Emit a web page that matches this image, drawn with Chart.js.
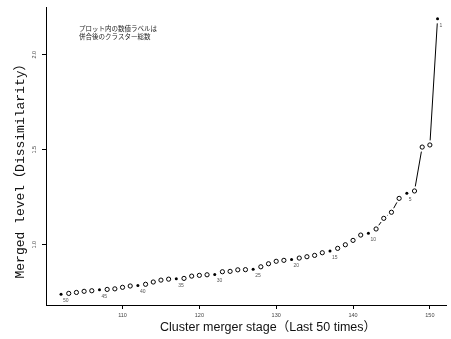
<!DOCTYPE html>
<html>
<head>
<meta charset="utf-8">
<script src="https://cdn.jsdelivr.net/npm/chart.js@4.4.1/dist/chart.umd.min.js"></script>
<style>
  body { margin: 0; background: #fff; }
  .chart-wrapper { width: 451px; height: 339px; }
</style>
</head>
<body>
<div class="chart-wrapper"><canvas id="chart"></canvas></div>
<script>
const stages = [102, 103, 104, 105, 106, 107, 108, 109, 110, 111,
  112, 113, 114, 115, 116, 117, 118, 119, 120, 121,
  122, 123, 124, 125, 126, 127, 128, 129, 130, 131,
  132, 133, 134, 135, 136, 137, 138, 139, 140, 141,
  142, 143, 144, 145, 146, 147, 148, 149, 150, 151];

const mergeLevels = [0.740, 0.744, 0.749, 0.755, 0.758, 0.763, 0.765, 0.768, 0.776, 0.783,
  0.785, 0.792, 0.804, 0.814, 0.819, 0.821, 0.823, 0.835, 0.839, 0.842,
  0.844, 0.858, 0.860, 0.868, 0.869, 0.871, 0.884, 0.900, 0.913, 0.918,
  0.923, 0.930, 0.937, 0.944, 0.958, 0.967, 0.981, 1.000, 1.023, 1.051,
  1.060, 1.083, 1.139, 1.171, 1.244, 1.271, 1.283, 1.514, 1.525, 2.189];

// clusters remaining after each merge
const clusterCounts = [50, 49, 48, 47, 46, 45, 44, 43, 42, 41,
  40, 39, 38, 37, 36, 35, 34, 33, 32, 31,
  30, 29, 28, 27, 26, 25, 24, 23, 22, 21,
  20, 19, 18, 17, 16, 15, 14, 13, 12, 11,
  10, 9, 8, 7, 6, 5, 4, 3, 2, 1];

const labeledCounts = [50, 45, 40, 35, 30, 25, 20, 15, 10, 5, 1];

const xTicks = [110, 120, 130, 140, 150];
const yTicks = [1.0, 1.5, 2.0];

const xTitle = "Cluster merger stage（Last 50 times）";
const yTitle = "Merged level（Dissimilarity）";
const noteLines = ["プロット内の数値ラベルは", "併合後のクラスター総数"];

const ctx = document.getElementById("chart");
const isLabeled = (i) => labeledCounts.includes(clusterCounts[i]);

// R style type="b": segments with a gap around each point
const gapLines = {
  id: "gapLines",
  beforeDatasetsDraw(chart) {
    const pts = chart.getDatasetMeta(0).data;
    const c = chart.ctx;
    const gap = 4.6;
    c.save();
    c.strokeStyle = "#000";
    c.lineWidth = 1;
    for (let i = 0; i < pts.length - 1; i++) {
      const a = pts[i], b = pts[i + 1];
      const dx = b.x - a.x, dy = b.y - a.y;
      const d = Math.hypot(dx, dy);
      if (d <= gap * 2) continue;
      const ux = dx / d, uy = dy / d;
      c.beginPath();
      c.moveTo(a.x + ux * gap, a.y + uy * gap);
      c.lineTo(b.x - ux * gap, b.y - uy * gap);
      c.stroke();
    }
    c.restore();
  },
};

const decorations = {
  id: "decorations",
  afterDatasetsDraw(chart) {
    const c = chart.ctx;
    const pts = chart.getDatasetMeta(0).data;
    const yScale = chart.scales.y;
    c.save();

    // cluster count labels
    c.font = "5px 'Liberation Sans', Arial, sans-serif";
    c.fillStyle = "#555";
    c.textAlign = "left";
    c.textBaseline = "middle";
    pts.forEach((p, i) => {
      if (isLabeled(i)) c.fillText(String(clusterCounts[i]), p.x + 2, p.y + 6.5);
    });

    // rotated y tick labels
    c.font = "5.5px 'Liberation Sans', Arial, sans-serif";
    c.fillStyle = "#444";
    c.textAlign = "center";
    yTicks.forEach((v) => {
      const y = yScale.getPixelForValue(v);
      c.save();
      c.translate(34, y);
      c.rotate(-Math.PI / 2);
      c.fillText(v.toFixed(1), 0, 0);
      c.restore();
    });

    // axis titles
    c.fillStyle = "#111";
    c.font = "12.5px 'Liberation Sans', Arial, 'Noto Sans CJK JP', sans-serif";
    c.fillText(xTitle, 268, 328);

    c.save();
    c.translate(21, 168);
    c.rotate(-Math.PI / 2);
    c.font = "13px 'Liberation Mono', 'Noto Sans CJK JP', monospace";
    c.fillText(yTitle, 0, 0);
    c.restore();

    // note
    c.font = "6.5px 'Noto Sans CJK JP', sans-serif";
    c.fillStyle = "#222";
    c.textAlign = "left";
    noteLines.forEach((t, i) => c.fillText(t, 79, 29 + i * 8));

    c.restore();
  },
};

new Chart(ctx, {
  type: "scatter",
  data: {
    datasets: [
      {
        data: stages.map((s, i) => ({ x: s, y: mergeLevels[i] })),
        showLine: false,
        pointStyle: "circle",
        pointRadius: stages.map((s, i) => (isLabeled(i) ? 1.5 : 2.1)),
        pointBackgroundColor: stages.map((s, i) => (isLabeled(i) ? "#000" : "#fff")),
        pointBorderColor: "#000",
        pointBorderWidth: stages.map((s, i) => (isLabeled(i) ? 0 : 1)),
      },
    ],
  },
  options: {
    responsive: true,
    maintainAspectRatio: false,
    animation: false,
    devicePixelRatio: 1,
    layout: { padding: { top: 7, right: 0, left: 0, bottom: 0 } },
    plugins: {
      legend: { display: false },
      tooltip: { enabled: false },
    },
    scales: {
      x: {
        type: "linear",
        min: 100.04,
        max: 152.1,
        afterBuildTicks: (scale) => {
          scale.ticks = xTicks.map((v) => ({ value: v }));
        },
        afterFit: (scale) => {
          scale.height = 34;
        },
        ticks: {
          autoSkip: false,
          maxRotation: 0,
          padding: 3,
          color: "#444",
          font: { family: "'Liberation Sans', Arial, sans-serif", size: 5.5 },
        },
        grid: {
          drawOnChartArea: false,
          drawTicks: true,
          tickLength: 4,
          color: "#000",
        },
        border: { color: "#000", width: 1 },
      },
      y: {
        type: "linear",
        min: 0.683,
        max: 2.251,
        afterBuildTicks: (scale) => {
          scale.ticks = yTicks.map((v) => ({ value: v }));
        },
        afterFit: (scale) => {
          scale.width = 46;
        },
        ticks: { display: false },
        grid: {
          drawOnChartArea: false,
          drawTicks: true,
          tickLength: 4,
          color: "#000",
        },
        border: { color: "#000", width: 1 },
      },
    },
  },
  plugins: [gapLines, decorations],
});
</script>
</body>
</html>
